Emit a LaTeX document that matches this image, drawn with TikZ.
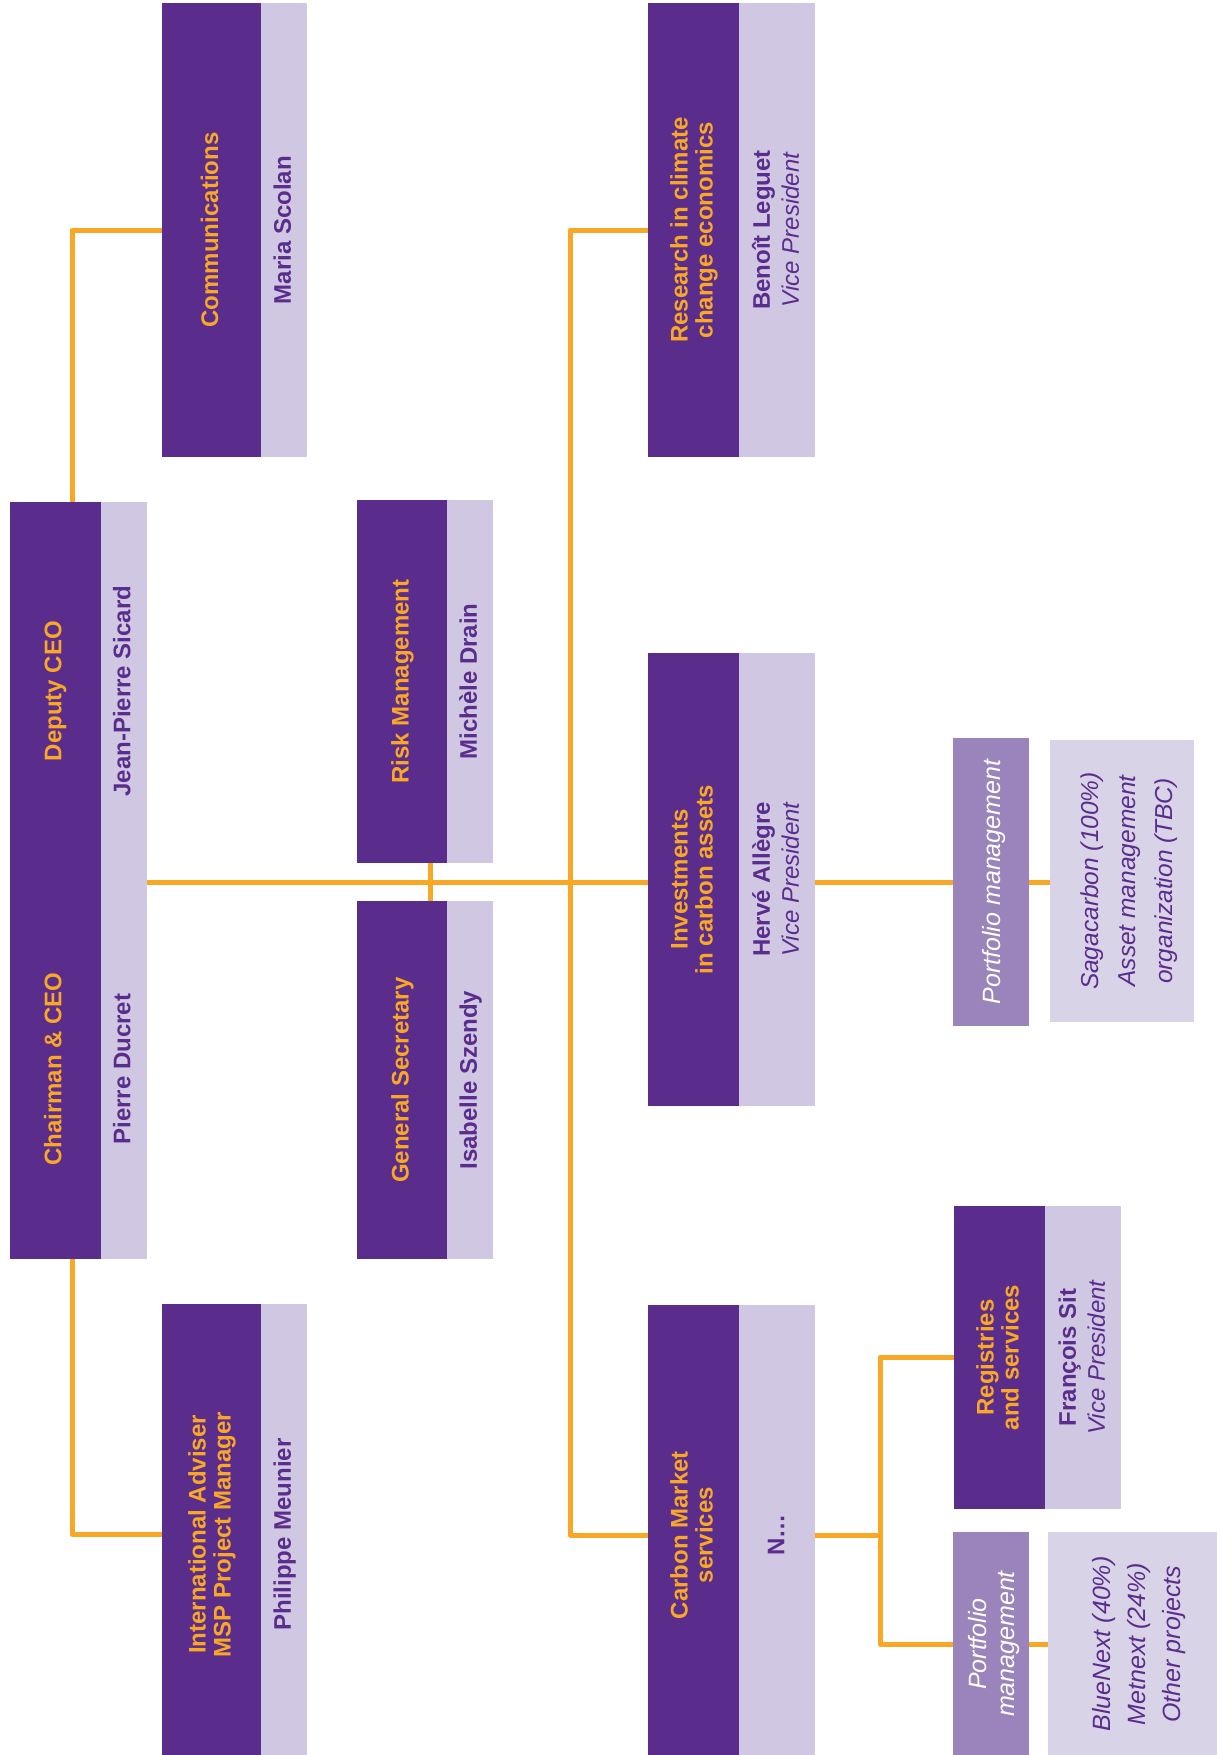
\documentclass[tikz,border=0pt]{standalone}
\usepackage{fontspec}
\setmainfont{Liberation Sans}
\usepackage{graphicx}
\definecolor{dpurple}{HTML}{5A2D8C}
\definecolor{lpurple}{HTML}{D0C8E3}
\definecolor{mpurple}{HTML}{9B84BB}
\definecolor{ppurple}{HTML}{D9D3E8}
\definecolor{corange}{HTML}{F9A826}
\newcommand{\vt}[1]{\rotatebox{90}{\begin{tabular}{@{}c@{}}#1\end{tabular}}}
\newcommand{\vp}{{\normalfont\itshape Vice President}}
\newcommand{\padL}[1]{\hspace*{#1}}
\tikzset{
  panel/.style={inner sep=0pt, outer sep=0pt, anchor=north west},
  darkp/.style={panel, fill=dpurple, text=corange, font=\fontsize{24}{25}\selectfont\bfseries},
  lightp/.style={panel, fill=lpurple, text=dpurple, font=\fontsize{24}{29}\selectfont\bfseries},
  midp/.style={panel, fill=mpurple, text=white, font=\fontsize{25}{28}\selectfont\itshape},
  palep/.style={panel, fill=ppurple, text=dpurple, font=\fontsize{24.5}{37}\selectfont\itshape},
  titletxt/.style={inner sep=0pt, text=corange, font=\fontsize{24}{25}\selectfont\bfseries},
  nametxt/.style={inner sep=0pt, text=dpurple, font=\fontsize{24}{29}\selectfont\bfseries},
  conn/.style={draw=corange, line width=5pt, line join=round},
}
\begin{document}
\begin{tikzpicture}[x=1pt,y=-1pt]
\fill[white] (0,0) rectangle (1217,1755);
\useasboundingbox (0,0) rectangle (1217,1755);

% Chairman block
\node[darkp, minimum width=91, minimum height=757] (chairD) at (10,502) {};
\node[lightp, minimum width=46, minimum height=757] (chairL) at (101,502) {};
\node[titletxt] (deputyT) at (56.5,691) {\vt{Deputy CEO}};
\node[titletxt] (chairT) at (56.5,1069) {\vt{Chairman \& CEO}};
\node[nametxt] (jpsT) at (124.5,691) {\vt{Jean-Pierre Sicard}};
\node[nametxt] (pdT) at (124.5,1069) {\vt{Pierre Ducret}};

% Communications
\node[darkp, minimum width=99, minimum height=454] (commD) at (162,3) {\padL{3pt}\vt{Communications}};
\node[lightp, minimum width=46, minimum height=454] (commL) at (261,3) {\padL{2pt}\vt{Maria Scolan}};

% International adviser
\node[darkp, minimum width=99, minimum height=461] (intD) at (162,1304) {\padL{3pt}\vt{International Adviser\\MSP Project Manager}};
\node[lightp, minimum width=46, minimum height=461] (intL) at (261,1304) {\padL{2pt}\vt{Philippe Meunier}};

% Risk management
\node[darkp, minimum width=90, minimum height=363] (riskD) at (357,500) {\padL{3pt}\vt{Risk Management}};
\node[lightp, minimum width=46, minimum height=363] (riskL) at (447,500) {\padL{2pt}\vt{Michèle Drain}};

% General secretary
\node[darkp, minimum width=90, minimum height=358] (gsD) at (357,901) {\padL{3pt}\vt{General Secretary}};
\node[lightp, minimum width=46, minimum height=358] (gsL) at (447,901) {\padL{2pt}\vt{Isabelle Szendy}};

% Research
\node[darkp, minimum width=91, minimum height=454] (resD) at (648,3) {\padL{3pt}\vt{Research in climate\\change economics}};
\node[lightp, minimum width=76, minimum height=454] (resL) at (739,3) {\padL{3pt}\vt{Benoît Leguet\\\vp}};

% Investments
\node[darkp, minimum width=91, minimum height=453] (invD) at (648,653) {\padL{3pt}\vt{Investments\\in carbon assets}};
\node[lightp, minimum width=76, minimum height=453] (invL) at (739,653) {\padL{3pt}\vt{Hervé Allègre\\\vp}};

% Carbon market
\node[darkp, minimum width=91, minimum height=460] (carbD) at (648,1305) {\padL{3pt}\vt{Carbon Market\\services}};
\node[lightp, minimum width=76, minimum height=460] (carbL) at (739,1305) {\padL{3pt}\vt{N…}};

% Registries
\node[darkp, minimum width=91, minimum height=303] (regD) at (954,1206) {\padL{3pt}\vt{Registries\\and services}};
\node[lightp, minimum width=76, minimum height=303] (regL) at (1045,1206) {\padL{3pt}\vt{François Sit\\\vp}};

% Portfolio management (investments)
\node[midp, minimum width=76, minimum height=288] (pf1) at (953,738) {\padL{7pt}\vt{Portfolio management}};
\node[palep, minimum width=144, minimum height=282] (saga) at (1050,740) {\padL{12pt}\vt{Sagacarbon (100\%)\\Asset management\\organization (TBC)}};

% Portfolio management (carbon market)
\node[midp, minimum width=76, minimum height=224] (pf2) at (953,1532) {\padL{8pt}\vt{Portfolio\\management}};
\node[palep, minimum width=169, minimum height=224, font=\fontsize{25}{35}\selectfont\itshape] (blue) at (1048,1532) {\padL{12pt}\vt{BlueNext (40\%)\\Metnext (24\%)\\Other projects}};

% connectors
\draw[conn] ([xshift=62pt]chairD.north west) |- (commD.west);
\draw[conn] ([xshift=62pt]chairD.south west) |- (intD.west);
\draw[conn] (chairL.east |- pf1.west) -- (invD.west |- pf1.west);
\draw[conn] ([xshift=73pt]riskD.south west) -- ([xshift=73pt]gsD.north west);
\draw[conn] (resD.west) -- ([xshift=-78pt]resD.west) |- (carbD.west);
\draw[conn] (invL.east |- pf1.west) -- (pf1.west);
\draw[conn] (pf1.east) -- (saga.west |- pf1.east);
\draw[conn] (carbL.east) -- ([xshift=-74pt]regD.west |- carbL.east);
\draw[conn] (regD.west) -- ([xshift=-74pt]regD.west) |- (pf2.west);
\draw[conn] (pf2.east) -- (blue.west |- pf2.east);
\end{tikzpicture}
\end{document}
